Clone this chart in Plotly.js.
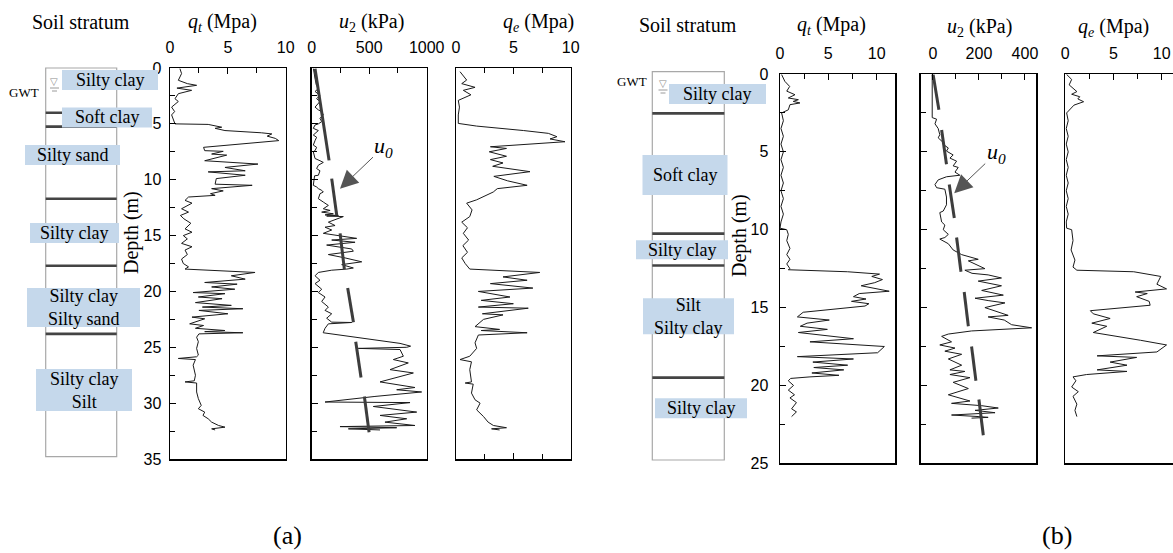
<!DOCTYPE html>
<html><head><meta charset="utf-8">
<script src="https://cdn.plot.ly/plotly-3.0.1.min.js"></script>
<style>html,body{margin:0;padding:0;background:#fff}#chart{width:1173px;height:553px}</style>
</head><body><div id="chart"></div>
<script>
// ---------- DATA (depth m, value) ----------
// Panel (a)
const qtA = [[0.06,0.86],[0.5,1.0],[1.1,0.72],[1.4,1.5],[1.55,2.3],[1.8,0.6],[2.0,1.87],[2.3,0.72],[2.75,0.43],[3.0,0.72],[3.5,0.14],[3.9,0.4],[4.2,0.14],[4.6,0.3],[5.0,0.43],[5.05,3.3],[5.3,4.47],[5.4,3.9],[5.6,4.75],[5.8,7.9],[5.9,8.8],[6.1,8.4],[6.3,9.1],[6.5,9.4],[7.1,2.9],[7.4,3.0],[7.46,4.6],[7.7,3.6],[7.8,4.9],[8.3,3.0],[8.4,4.75],[8.6,7.6],[8.9,4.75],[9.2,6.5],[9.3,3.3],[9.6,6.5],[9.9,4.0],[10.4,3.9],[10.5,7.1],[10.8,3.6],[11.0,4.6],[11.25,3.5],[11.4,3.9],[11.55,1.6],[11.85,1.3],[12.1,1.9],[12.6,1.0],[12.9,1.6],[13.2,0.9],[13.5,1.2],[13.9,1.8],[14.4,1.3],[14.7,1.9],[15.0,1.15],[15.3,1.5],[15.7,1.0],[16.0,1.9],[16.3,1.3],[16.7,1.5],[17.1,1.0],[17.5,1.15],[17.8,1.6],[18.0,1.3],[18.3,7.35],[18.6,5.3],[18.9,6.5],[19.2,3.0],[19.35,5.8],[19.6,3.6],[19.8,5.6],[20.1,2.0],[20.2,4.75],[20.5,2.45],[20.65,4.5],[21.0,2.2],[21.25,5.3],[21.4,2.8],[21.55,6.3],[21.7,2.5],[22.0,5.0],[22.3,1.9],[22.45,3.0],[22.9,1.7],[23.05,2.9],[23.3,2.2],[23.5,4.75],[23.6,3.0],[23.7,6.3],[23.8,2.5],[24.1,2.3],[24.5,2.45],[25.1,2.3],[25.7,2.45],[25.85,2.3],[26.0,0.72],[26.1,2.2],[26.6,2.0],[27.5,2.2],[28.0,2.1],[28.1,1.3],[28.2,2.3],[29.0,2.3],[29.6,2.45],[30.2,2.7],[30.5,2.45],[30.8,3.0],[31.1,2.85],[31.4,3.3],[31.7,3.6],[32.0,4.2],[32.15,4.75],[32.3,3.6],[32.4,3.9]];
const u2A = [[0.06,15],[0.5,20],[1.0,30],[1.5,40],[1.85,58],[2.1,29],[2.45,72],[2.75,43],[3.0,72],[3.5,29],[3.75,58],[3.9,87],[4.2,101],[4.5,72],[4.8,87],[5.0,58],[5.1,29],[5.4,14],[5.6,58],[6.0,14],[6.2,43],[6.5,29],[6.9,14],[7.1,43],[7.4,29],[7.5,14],[8.1,29],[8.3,72],[8.45,101],[8.7,58],[9.0,43],[9.2,72],[9.6,58],[9.65,25],[10.5,14],[10.65,43],[10.8,58],[10.95,87],[11.1,101],[11.25,72],[11.7,58],[12.0,101],[12.3,145],[12.6,101],[12.75,160],[12.9,87],[13.05,188],[13.15,116],[13.2,232],[13.25,130],[13.3,275],[13.8,145],[14.1,203],[14.25,116],[14.5,174],[14.8,101],[15.25,391],[15.4,174],[15.6,377],[15.85,130],[16.2,348],[16.4,362],[16.7,145],[17.0,290],[17.35,435],[17.6,261],[17.9,362],[18.0,305],[18.1,174],[18.3,58],[18.6,29],[19.0,72],[19.3,29],[19.8,87],[20.1,58],[20.5,116],[20.9,87],[21.4,145],[21.7,116],[22.0,174],[22.4,130],[22.75,174],[22.78,348],[22.9,145],[23.3,116],[23.7,100],[24.65,768],[24.9,860],[25.0,826],[25.1,405],[25.2,768],[25.8,797],[26.1,710],[26.4,840],[27.0,681],[27.3,884],[28.1,594],[28.6,898],[28.8,739],[29.0,956],[29.4,550],[29.9,116],[29.95,855],[30.3,536],[30.8,913],[31.1,594],[31.4,826],[31.7,637],[32.0,898],[32.1,246],[32.2,739],[32.3,319],[32.4,594]];
const u0A = [[0.06,29],[8.27,151],[null,null],[9.9,174],[13.2,218],[null,null],[14.8,247],[18.0,284],[null,null],[19.7,313],[22.75,363],[null,null],[24.5,383],[27.7,429],[null,null],[29.4,458],[32.6,499]];
const qeA = [[0.33,0.35],[0.7,0.6],[1.08,0.93],[1.4,0.5],[1.73,1.66],[2.0,0.64],[2.4,1.3],[2.9,0.2],[3.5,0.3],[4.2,0.2],[4.96,0.2],[5.2,1.8],[5.4,4.1],[5.6,5.9],[5.85,8.05],[6.15,8.8],[6.35,8.2],[6.6,9.5],[7.05,3.0],[7.2,4.4],[7.5,2.9],[7.9,4.4],[8.2,3.0],[8.5,4.1],[8.8,3.2],[9.28,6.45],[9.7,3.3],[10.1,4.5],[10.5,6.2],[10.8,3.6],[11.1,3.25],[11.8,1.8],[12.1,0.93],[12.7,1.4],[13.3,1.2],[13.8,0.5],[14.3,1.0],[14.8,0.64],[15.4,1.1],[15.9,0.6],[16.5,1.0],[17.0,0.5],[17.5,0.8],[18.0,1.2],[18.3,7.3],[18.7,4.1],[19.0,6.2],[19.3,3.0],[19.7,6.7],[20.0,1.95],[20.5,4.7],[20.8,2.2],[21.1,5.0],[21.4,1.95],[21.5,6.3],[22.0,2.3],[22.1,4.1],[22.5,2.4],[23.15,1.66],[23.4,3.8],[23.5,2.2],[23.7,6.2],[23.9,1.95],[24.6,1.66],[25.1,1.8],[25.8,1.2],[26.1,0.35],[26.3,1.35],[27.0,1.2],[28.1,1.35],[28.2,0.8],[28.3,1.5],[29.1,1.35],[29.7,1.66],[30.0,2.1],[30.6,1.8],[31.2,2.4],[31.7,2.8],[32.0,3.26],[32.2,4.4],[32.3,3.1],[32.4,3.8]];
const layerDepthA = [4.0, 5.25, 11.7, 17.7, 23.8];
const stratumA = ['Silty clay','Soft clay','Silty sand','Silty clay','Silty clay<br>Silty sand','Silty clay<br>Silt'];
const stratumDepthA = [1.07, 4.43, 7.79, 14.77, 21.44, 28.83];

// Panel (b)
const qtB = [[0.04,0.17],[0.47,0.5],[0.8,1.0],[1.1,0.7],[1.33,1.55],[1.54,0.86],[1.65,1.9],[1.76,1.37],[1.86,2.06],[1.97,1.03],[2.3,0.86],[2.5,0.17],[3.0,0.35],[3.5,0.1],[4.0,0.35],[4.5,0.1],[5.0,0.35],[5.5,0.1],[6.0,0.35],[6.5,0.1],[7.0,0.35],[7.5,0.1],[8.0,0.35],[8.5,0.1],[9.0,0.35],[9.5,0.1],[9.9,0.0],[10.0,0.7],[10.3,0.86],[10.7,0.7],[11.2,1.03],[11.6,0.7],[11.9,1.03],[12.2,0.7],[12.5,1.03],[12.57,0.86],[12.7,7.0],[12.85,10.3],[13.0,9.5],[13.2,10.6],[13.4,9.8],[13.6,8.4],[13.95,11.3],[14.1,8.2],[14.3,7.6],[14.45,8.9],[14.6,7.4],[14.75,9.2],[14.9,8.8],[15.3,2.4],[15.6,1.8],[15.8,5.1],[16.0,2.8],[16.2,2.1],[16.4,4.9],[16.6,1.9],[17.0,7.6],[17.2,3.1],[17.5,10.8],[17.9,10.1],[18.15,1.8],[18.3,7.6],[18.5,3.4],[18.7,7.0],[18.85,3.5],[19.0,6.6],[19.2,3.3],[19.35,6.1],[19.45,3.1],[19.55,1.1],[19.7,0.86],[20.0,1.4],[20.3,0.86],[20.6,1.5],[20.8,1.03],[21.1,1.7],[21.5,1.2],[21.7,1.7],[22.0,1.2]];
const u2B = [[0.04,-3],[2.8,-3],[2.9,16],[3.2,9],[3.5,23],[3.9,30],[4.1,23],[4.4,45],[4.6,52],[4.75,67],[4.95,59],[5.2,88],[5.4,74],[5.6,103],[5.9,88],[6.0,110],[6.3,96],[6.5,117],[6.6,59],[6.7,38],[6.8,23],[7.1,9],[7.3,16],[7.4,52],[7.9,59],[8.4,59],[8.8,45],[8.9,30],[9.5,38],[9.7,52],[10.0,45],[10.3,67],[10.5,52],[10.6,30],[10.9,67],[11.3,88],[11.6,125],[11.9,197],[12.0,154],[12.5,226],[12.6,139],[12.8,170],[12.9,240],[13.1,298],[13.3,197],[13.6,298],[13.9,212],[14.2,306],[14.4,183],[14.55,240],[14.7,313],[15.0,226],[15.5,327],[15.6,240],[15.8,310],[16.1,342],[16.3,429],[16.5,168],[16.7,67],[16.85,38],[17.2,81],[17.4,30],[17.6,96],[17.8,52],[18.0,125],[18.3,67],[18.7,125],[19.0,74],[19.1,139],[19.3,74],[19.5,161],[19.8,88],[20.2,154],[20.6,67],[21.0,161],[21.15,81],[21.3,212],[21.45,284],[21.6,183],[21.75,270],[21.9,81],[22.0,200],[22.05,240],[22.1,168]];
const u0B = [[0.04,1],[2.3,26],[null,null],[3.6,38],[5.8,59],[null,null],[7.1,71],[9.25,93],[null,null],[10.5,103],[12.7,122],[null,null],[14.0,136],[16.2,154],[null,null],[17.5,168],[19.7,187],[null,null],[20.9,200],[23.2,219]];
const qeB = [[0.03,0.14],[0.35,0.66],[0.7,0.4],[1.13,1.2],[1.3,0.66],[1.46,1.5],[1.6,1.3],[1.78,1.9],[2.0,0.9],[2.3,0.5],[2.5,0.14],[3.0,0.3],[3.5,0.1],[4.0,0.3],[4.5,0.1],[5.0,0.3],[5.5,0.1],[6.0,0.3],[6.5,0.1],[7.0,0.3],[7.5,0.1],[8.0,0.3],[8.5,0.1],[9.0,0.3],[9.5,0.1],[9.9,0.14],[10.0,0.66],[10.7,0.8],[11.3,0.6],[11.95,1.0],[12.4,0.8],[12.6,1.2],[12.7,7.1],[13.0,9.9],[13.5,9.5],[13.8,10.5],[14.0,7.25],[14.1,8.5],[14.3,7.4],[14.6,8.7],[14.85,8.8],[15.2,2.6],[15.4,2.9],[15.7,4.65],[16.0,2.75],[16.2,4.3],[16.6,2.9],[17.1,7.8],[17.4,10.5],[17.85,9.5],[18.1,3.3],[18.2,7.4],[18.5,4.65],[18.7,6.4],[19.0,3.3],[19.1,6.4],[19.3,2.2],[19.45,0.8],[19.7,1.1],[20.1,0.66],[20.4,1.35],[20.7,0.8],[21.2,1.2],[21.6,1.0],[22.0,1.2]];
const layerDepthB = [2.53, 10.25, 12.3, 19.5];
const stratumB = ['Silty clay','Soft clay','Silty clay','Silt<br>Silty clay','Silty clay'];
const stratumDepthB = [1.29, 6.49, 11.28, 15.55, 21.46];

// ---------- LAYOUT HELPERS ----------
const W = 1173, H = 553;
const X = p => p / W, Y = p => 1 - p / H;
const SANS = '"Liberation Sans", Arial, sans-serif';
const SERIF = '"Liberation Serif", "Times New Roman", Times, serif';
const BOX = '#c5d8eb';

const col = (pairs, i) => pairs.map(p => p[i]);
function line(pairs, xa, ya, extra) {
  return Object.assign({type:'scatter', mode:'lines', x: col(pairs,1), y: col(pairs,0),
    xaxis: xa, yaxis: ya, line:{color:'#1a1a1a', width:1}, hoverinfo:'skip', showlegend:false}, extra || {});
}
const u0Style = {line:{color:'#3d3d3d', width:3}, connectgaps:false};

const data = [
  line(qtA,'x','y'), line(u2A,'x2','y2'), line(u0A,'x2','y2',u0Style), line(qeA,'x3','y3'),
  line(qtB,'x4','y4'), line(u2B,'x5','y5'), line(u0B,'x5','y5',u0Style), line(qeB,'x6','y6')
];

const axBase = {showgrid:false, zeroline:false, showline:true, linecolor:'#000', linewidth:1.5,
  mirror:true, ticks:'inside', ticklen:6, tickwidth:1, tickcolor:'#000',
  tickfont:{family:SANS, size:16, color:'#000'}, fixedrange:true};
const minor = d => ({dtick:d, ticks:'inside', ticklen:5, tickwidth:1, tickcolor:'#000'});
const xAx = (dom, rng, anchor, dt, mdt, extra) => Object.assign({}, axBase,
  {domain:dom, range:rng, anchor:anchor, side:'top', tick0:0, dtick:dt, minor:minor(mdt), ticklabelstandoff:7}, extra || {});
const domYA = [Y(459), Y(68)], domYB = [Y(463.3), Y(74)];
// pixel scale of the depth axes (used only to size label boxes)
const pxPerMA = 391 / 35, pxPerMB = 389.3 / 25;

const layout = {
  width: W, height: H, margin:{l:0,r:0,t:0,b:0}, paper_bgcolor:'#fff', plot_bgcolor:'rgba(0,0,0,0)',
  showlegend:false, hovermode:false, font:{family:SERIF},
  xaxis:  xAx([X(170), X(285.7)], [0,10], 'y', 5, 2.5),
  xaxis2: xAx([X(311.7), X(426.7)], [0,1000], 'y2', 500, 250),
  xaxis3: xAx([X(456), X(570.7)], [0,10], 'y3', 5, 2.5, {mirror:'ticks'}),
  xaxis4: xAx([X(780), X(895)], [0,11.9], 'y4', 5, 2.5),
  xaxis5: xAx([X(920.7), X(1036)], [-53,448], 'y5', 200, 100),
  xaxis6: xAx([X(1065.3), 1], [0,11.17], 'y6', 5, 2.5),
  yaxis:  Object.assign({}, axBase, {domain:domYA, range:[35,0], anchor:'x', tick0:0, dtick:5, minor:minor(2.5), ticklabelstandoff:4}),
  yaxis2: Object.assign({}, axBase, {domain:domYA, range:[35,0], anchor:'x2', matches:'y', dtick:5, minor:minor(2.5), showticklabels:false}),
  yaxis3: Object.assign({}, axBase, {domain:domYA, range:[35,0], anchor:'x3', matches:'y', ticks:'', showticklabels:false}),
  yaxis4: Object.assign({}, axBase, {domain:domYB, range:[25,0], anchor:'x4', tick0:0, dtick:5, minor:minor(2.5), ticklabelstandoff:7}),
  yaxis5: Object.assign({}, axBase, {domain:domYB, range:[25,0], anchor:'x5', matches:'y4', dtick:5, minor:minor(2.5), showticklabels:false}),
  yaxis6: Object.assign({}, axBase, {domain:domYB, range:[25,0], anchor:'x6', matches:'y4', ticks:'', showticklabels:false}),
  shapes: [], annotations: []
};

// Soil stratum columns
function column(x0, x1, yTop, yBot, layers, yref) {
  layout.shapes.push({type:'rect', xref:'paper', yref:'paper', x0:X(x0), x1:X(x1), y0:Y(yBot), y1:Y(yTop),
    line:{color:'#a8a8a8', width:1.2}, fillcolor:'rgba(0,0,0,0)', layer:'below'});
  layers.forEach(d => layout.shapes.push({type:'line', xref:'paper', yref:yref, x0:X(x0), x1:X(x1), y0:d, y1:d,
    line:{color:'#444', width:2.6}}));
}
column(45.7, 116.7, 68, 456.7, layerDepthA, 'y');
column(652.3, 724.3, 71.7, 460, layerDepthB, 'y4');

function labels(texts, depths, yref, pxm, xs, ws, hs) {
  texts.forEach((t, i) => {
    layout.shapes.push({type:'rect', xref:'paper', yref:yref, x0:X(xs[i]-ws[i]/2), x1:X(xs[i]+ws[i]/2),
      y0:depths[i]-hs[i]/2/pxm, y1:depths[i]+hs[i]/2/pxm, line:{width:0}, fillcolor:BOX});
    layout.annotations.push({text:t, xref:'paper', yref:yref, x:X(xs[i]), y:depths[i],
      xanchor:'center', yanchor:'middle', showarrow:false, align:'center',
      font:{family:SERIF, size:18, color:'#000'}});
  });
}
labels(stratumA, stratumDepthA, 'y', pxPerMA, [110,107,72.5,74.5,83.5,84], [96,90,95,89,113,96], [20,20,20,20,39,42]);
labels(stratumB, stratumDepthB, 'y4', pxPerMB, [717.5,685,682,688.5,701], [97,85,92,91,92], [20,40,19,36,20]);

// GWT markers
function gwt(tx, ty, sx, sy) {
  layout.annotations.push({text:'GWT', xref:'paper', yref:'paper', x:X(tx), y:Y(ty), showarrow:false,
    xanchor:'center', yanchor:'middle', font:{family:SERIF, size:13, color:'#000'}});
  layout.annotations.push({text:'▽', xref:'paper', yref:'paper', x:X(sx), y:Y(sy), showarrow:false,
    xanchor:'center', yanchor:'middle', font:{family:'"DejaVu Sans"', size:10, color:'#8a8a8a'}});
  layout.shapes.push({type:'line', xref:'paper', yref:'paper', x0:X(sx-4.5), x1:X(sx+4.5), y0:Y(sy+6.5), y1:Y(sy+6.5), line:{color:'#9a9a9a', width:1}});
  layout.shapes.push({type:'line', xref:'paper', yref:'paper', x0:X(sx-2.5), x1:X(sx+2.5), y0:Y(sy+9.5), y1:Y(sy+9.5), line:{color:'#9a9a9a', width:1}});
}
gwt(23.8, 93, 54.5, 81.5);
gwt(631.7, 81.7, 663, 83.5);

// Titles
const T = (text, x, y, size, extra) => layout.annotations.push(Object.assign({text:text, xref:'paper', yref:'paper',
  x:X(x), y:Y(y), xanchor:'center', yanchor:'middle', showarrow:false, font:{family:SERIF, size:size||20, color:'#000'}}, extra||{}));
T('Soil stratum', 81, 22);
T('<i>q<sub>t</sub></i> (Mpa)', 223, 22);
T('<i>u</i><sub>2</sub> (kPa)', 371, 22);
T('<i>q<sub>e</sub></i> (Mpa)', 538, 22);
T('Soil stratum', 688, 25);
T('<i>q<sub>t</sub></i> (Mpa)', 831, 25);
T('<i>u</i><sub>2</sub> (kPa)', 979, 27);
T('<i>q<sub>e</sub></i> (Mpa)', 1113, 27);
T('Depth (m)', 131, 233, 20, {textangle:-90});
T('Depth (m)', 739, 236, 20, {textangle:-90});
T('(a)', 287, 535, 26);
T('(b)', 1057, 535, 26);

// u0 arrows
const u0Note = (x, y, xr, yr, ax, ay) => layout.annotations.push({text:'<i>u<sub>0</sub></i>', xref:xr, yref:yr, x:x, y:y,
  showarrow:true, ax:ax, ay:ay, arrowhead:2, arrowsize:3.6, arrowwidth:1, arrowcolor:'#555', standoff:0,
  font:{family:SERIF, size:22, color:'#000'}});
u0Note(246, 10.8, 'x2', 'y2', 44, -42);
u0Note(92.6, 7.65, 'x5', 'y5', 42, -40);

Plotly.newPlot('chart', data, layout, {staticPlot:true, displayModeBar:false});
</script></body></html>
